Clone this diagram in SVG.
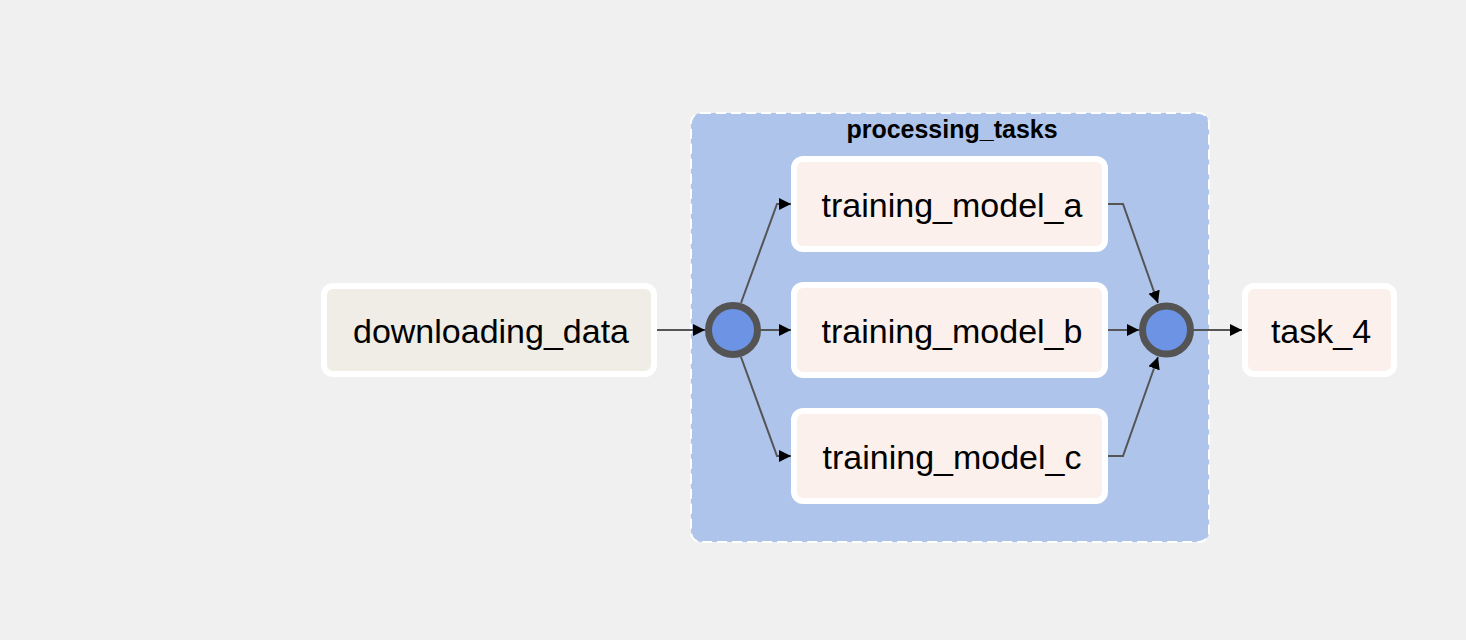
<svg xmlns="http://www.w3.org/2000/svg" width="1466" height="640" viewBox="0 0 1466 640">
<style>
.node rect{stroke:#ffffff;stroke-width:6}
.task rect{fill:#fbf0eb}
.lbl{font-family:"Liberation Sans",Arial,sans-serif;font-size:34px;fill:#000;text-anchor:middle}
.edge{fill:none;stroke:#555555;stroke-width:2}
.join{fill:#6d94e4;stroke:#545454;stroke-width:7}
</style>
<defs>
<marker id="arr" markerUnits="userSpaceOnUse" markerWidth="12" markerHeight="12" viewBox="0 0 10 10" refX="10" refY="5" orient="auto">
<path d="M0,0 L10,5 L0,10 Z" fill="#000"/>
</marker>
</defs>
<rect x="0" y="0" width="1466" height="640" fill="#f0f0f0"/>
<g id="processing_tasks">
<rect x="691" y="113" width="518" height="429" rx="10" fill="#aec4eb" stroke="#ffffff" stroke-width="2" stroke-dasharray="10,5"/>
<text x="952" y="138" font-family="'Liberation Sans',Arial,sans-serif" font-size="25" font-weight="bold" text-anchor="middle" fill="#000">processing_tasks</text>
</g>
<g id="connectors">
<path class="edge" d="M657,330 L705,330" marker-end="url(#arr)"/>
<path class="edge" d="M761,330 L791,330" marker-end="url(#arr)"/>
<path class="edge" d="M741,303 L777,204 L791,204" marker-end="url(#arr)"/>
<path class="edge" d="M741,357 L777,456 L791,456" marker-end="url(#arr)"/>
<path class="edge" d="M1108,204 L1123,204 L1158,303" marker-end="url(#arr)"/>
<path class="edge" d="M1108,330 L1139,330" marker-end="url(#arr)"/>
<path class="edge" d="M1108,456 L1123,456 L1158,357" marker-end="url(#arr)"/>
<path class="edge" d="M1194,330 L1242,330" marker-end="url(#arr)"/>
</g>
<g id="downloading_data" class="node">
<rect x="324" y="286" width="330" height="88" rx="9" fill="#efede6"/>
<text class="lbl" x="491" y="343">downloading_data</text>
</g>
<g id="processing_tasks_upstream">
<circle class="join" cx="733" cy="330" r="24.5"/>
</g>
<g id="training_model_a" class="node task">
<rect x="794" y="159" width="311" height="90" rx="9"/>
<text class="lbl" x="952" y="217">training_model_a</text>
</g>
<g id="training_model_b" class="node task">
<rect x="794" y="285" width="311" height="90" rx="9"/>
<text class="lbl" x="952" y="343">training_model_b</text>
</g>
<g id="training_model_c" class="node task">
<rect x="794" y="411" width="311" height="90" rx="9"/>
<text class="lbl" x="952" y="469">training_model_c</text>
</g>
<g id="processing_tasks_downstream">
<circle class="join" cx="1166.5" cy="330" r="24"/>
</g>
<g id="task_4" class="node task">
<rect x="1245" y="286" width="149" height="88" rx="9"/>
<text class="lbl" x="1321" y="343">task_4</text>
</g>
</svg>
